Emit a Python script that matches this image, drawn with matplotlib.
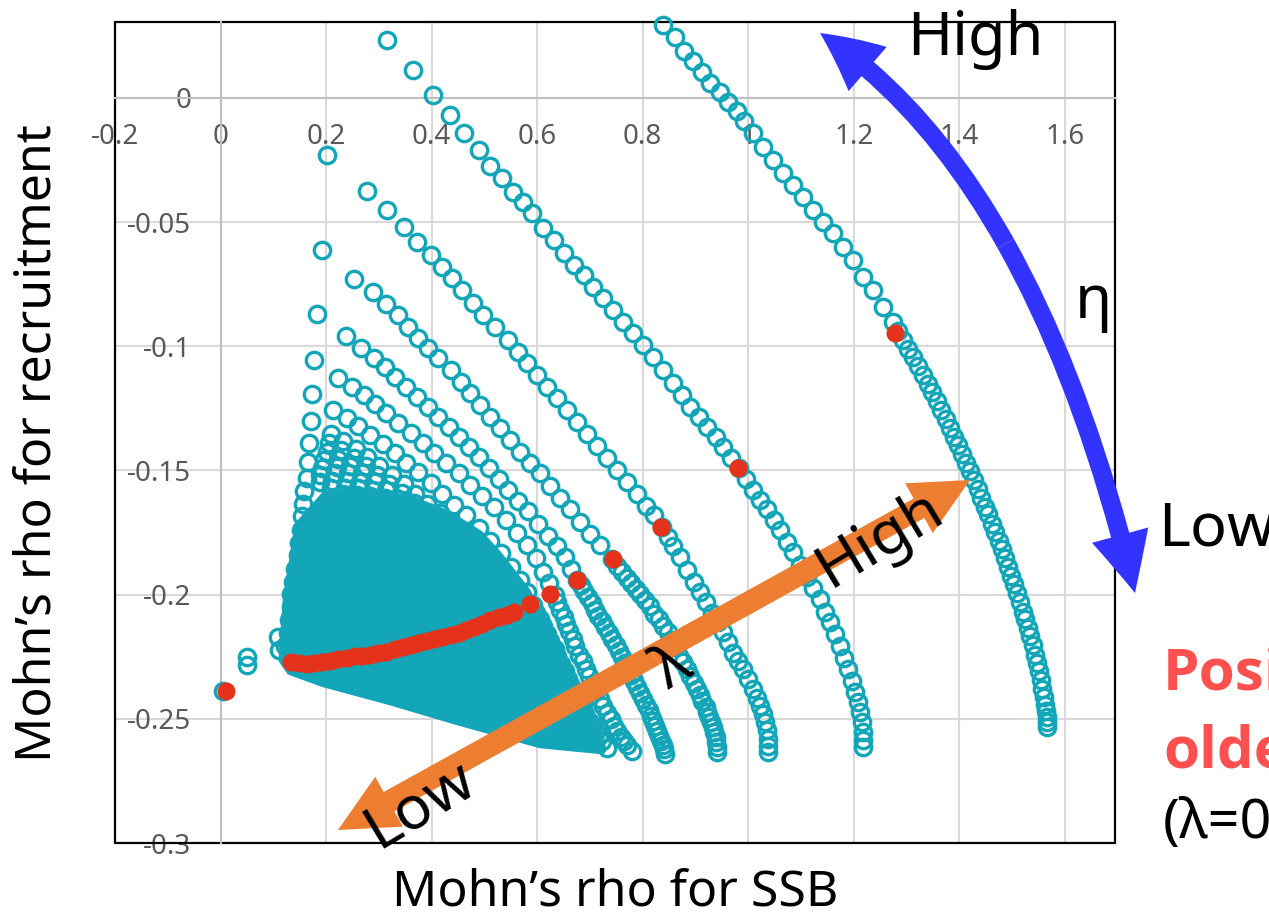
import matplotlib.pyplot as plt
from matplotlib.patches import FancyArrowPatch, Rectangle, Polygon
from matplotlib.path import Path

plt.rcParams['font.family'] = ['Noto Sans', 'DejaVu Sans']

# one curve per lambda, points run from high eta (top left) to low eta (bottom right)
curve_a_x = [0.839, 0.862, 0.879, 0.896, 0.913, 0.928, 0.947, 0.962, 0.979, 0.992,
             1.009, 1.028, 1.047, 1.066, 1.085, 1.104, 1.123, 1.142, 1.161, 1.180,
             1.199, 1.218, 1.237, 1.256,
             1.275, 1.284, 1.294, 1.303, 1.313, 1.322, 1.331, 1.341, 1.348, 1.358,
             1.366, 1.375, 1.383, 1.390, 1.398, 1.405, 1.413, 1.420, 1.428, 1.436,
             1.441, 1.449, 1.455, 1.462, 1.468, 1.475, 1.481, 1.487, 1.492, 1.498,
             1.504, 1.509, 1.515, 1.521, 1.525, 1.530, 1.534, 1.540, 1.544, 1.547,
             1.551, 1.555, 1.557, 1.561, 1.563, 1.564, 1.566, 1.566, 1.566]
curve_a_y = [0.0294, 0.0245, 0.0189, 0.0149, 0.0105, 0.0060, 0.0024, -0.0016, -0.0052, -0.0093,
             -0.0141, -0.0197, -0.0249, -0.0302, -0.0350, -0.0398, -0.0451, -0.0499, -0.0543, -0.0599,
             -0.0652, -0.0720, -0.0772, -0.0841,
             -0.0901, -0.0937, -0.0973, -0.1010, -0.1042, -0.1078, -0.1114, -0.1150, -0.1183, -0.1219,
             -0.1255, -0.1291, -0.1327, -0.1364, -0.1396, -0.1432, -0.1468, -0.1504, -0.1537, -0.1573,
             -0.1609, -0.1645, -0.1677, -0.1714, -0.1746, -0.1782, -0.1818, -0.1854, -0.1887, -0.1923,
             -0.1959, -0.1995, -0.2031, -0.2068, -0.2100, -0.2136, -0.2168, -0.2204, -0.2241, -0.2277,
             -0.2309, -0.2345, -0.2381, -0.2414, -0.2446, -0.2470, -0.2494, -0.2514, -0.2534]

curve_b_x = [0.316, 0.364, 0.402, 0.434, 0.462, 0.489, 0.511, 0.534, 0.555, 0.574,
             0.591, 0.612, 0.631, 0.650, 0.669, 0.688, 0.706, 0.725, 0.744, 0.763,
             0.782, 0.801, 0.820, 0.839, 0.858, 0.875, 0.890, 0.907, 0.922, 0.938,
             0.953, 0.968, 0.983, 0.996, 1.009, 1.023, 1.036, 1.049, 1.061, 1.074,
             1.085, 1.098, 1.112, 1.123, 1.136, 1.146, 1.155, 1.165, 1.174, 1.182,
             1.189, 1.197, 1.203, 1.208, 1.212, 1.216, 1.218, 1.218, 1.218]
curve_b_y = [0.0233, 0.0113, 0.0012, -0.0068, -0.0141, -0.0209, -0.0274, -0.0322, -0.0378, -0.0418,
             -0.0463, -0.0523, -0.0571, -0.0623, -0.0672, -0.0712, -0.0760, -0.0805, -0.0853, -0.0901,
             -0.0945, -0.0994, -0.1042, -0.1094, -0.1146, -0.1195, -0.1243, -0.1283, -0.1323, -0.1364,
             -0.1404, -0.1448, -0.1488, -0.1533, -0.1577, -0.1617, -0.1657, -0.1698, -0.1738, -0.1786,
             -0.1830, -0.1879, -0.1927, -0.1975, -0.2019, -0.2068, -0.2112, -0.2160, -0.2208, -0.2257,
             -0.2301, -0.2349, -0.2393, -0.2434, -0.2474, -0.2514, -0.2554, -0.2587, -0.2615]

curve_c_x = [0.277, 0.316, 0.347, 0.373, 0.398, 0.420, 0.439, 0.458, 0.479, 0.498,
             0.521, 0.544, 0.563, 0.581, 0.600, 0.619, 0.638, 0.657, 0.676, 0.695,
             0.714, 0.733, 0.752, 0.771, 0.790, 0.807, 0.822, 0.837, 0.848, 0.858,
             0.871, 0.884, 0.898, 0.909, 0.920, 0.932, 0.943, 0.953, 0.962, 0.972,
             0.981, 0.991, 1.000, 1.009, 1.017, 1.023, 1.028, 1.032, 1.036, 1.038,
             1.038, 1.038]
curve_c_y = [-0.0374, -0.0451, -0.0519, -0.0579, -0.0632, -0.0680, -0.0724, -0.0772, -0.0825, -0.0873,
             -0.0921, -0.0973, -0.1022, -0.1066, -0.1114, -0.1163, -0.1207, -0.1255, -0.1303, -0.1352,
             -0.1400, -0.1448, -0.1496, -0.1545, -0.1593, -0.1641, -0.1681, -0.1726, -0.1766, -0.1806,
             -0.1850, -0.1899, -0.1947, -0.1991, -0.2031, -0.2072, -0.2112, -0.2152, -0.2192, -0.2233,
             -0.2269, -0.2301, -0.2341, -0.2381, -0.2418, -0.2450, -0.2482, -0.2514, -0.2546, -0.2582,
             -0.2611, -0.2635]

curve_d_x = [0.252, 0.288, 0.313, 0.337, 0.356, 0.375, 0.394, 0.413, 0.436, 0.455,
             0.473, 0.492, 0.511, 0.530, 0.549, 0.568, 0.587, 0.606, 0.625, 0.644,
             0.663, 0.682, 0.701, 0.720, 0.742, 0.752, 0.761, 0.771, 0.778, 0.788,
             0.795, 0.805, 0.814, 0.822, 0.830, 0.839, 0.847, 0.854, 0.862, 0.869,
             0.877, 0.884, 0.890, 0.898, 0.903, 0.909, 0.913, 0.919, 0.922, 0.926,
             0.930, 0.934, 0.936, 0.938, 0.939, 0.941, 0.941]
curve_d_y = [-0.0728, -0.0780, -0.0829, -0.0873, -0.0921, -0.0965, -0.1006, -0.1046, -0.1094, -0.1142,
             -0.1187, -0.1235, -0.1283, -0.1327, -0.1376, -0.1424, -0.1468, -0.1512, -0.1561, -0.1609,
             -0.1657, -0.1706, -0.1754, -0.1802, -0.1858, -0.1883, -0.1907, -0.1931, -0.1955, -0.1979,
             -0.1999, -0.2023, -0.2047, -0.2076, -0.2100, -0.2128, -0.2152, -0.2184, -0.2212, -0.2245,
             -0.2273, -0.2301, -0.2329, -0.2357, -0.2381, -0.2405, -0.2430, -0.2454, -0.2474, -0.2494,
             -0.2514, -0.2534, -0.2554, -0.2574, -0.2595, -0.2615, -0.2635]

curve_e_x = [0.237, 0.267, 0.290, 0.311, 0.331, 0.352, 0.373, 0.394, 0.413, 0.432,
             0.451, 0.470, 0.489, 0.508, 0.527, 0.545, 0.564, 0.583, 0.602, 0.621,
             0.638, 0.653, 0.665, 0.676, 0.684, 0.689, 0.697, 0.703, 0.710, 0.716,
             0.723, 0.729, 0.737, 0.742, 0.750, 0.756, 0.761, 0.767, 0.773, 0.778,
             0.784, 0.790, 0.795, 0.801, 0.807, 0.811, 0.816, 0.820, 0.824, 0.828,
             0.831, 0.835, 0.839, 0.841, 0.843]
curve_e_y = [-0.0957, -0.1006, -0.1046, -0.1082, -0.1122, -0.1163, -0.1203, -0.1243, -0.1283, -0.1323,
             -0.1364, -0.1404, -0.1444, -0.1488, -0.1533, -0.1577, -0.1621, -0.1665, -0.1714, -0.1762,
             -0.1806, -0.1850, -0.1895, -0.1939, -0.1963, -0.1987, -0.2011, -0.2035, -0.2060, -0.2084,
             -0.2108, -0.2132, -0.2156, -0.2180, -0.2204, -0.2228, -0.2253, -0.2277, -0.2301, -0.2325,
             -0.2349, -0.2373, -0.2397, -0.2422, -0.2446, -0.2466, -0.2490, -0.2510, -0.2530, -0.2550,
             -0.2570, -0.2591, -0.2607, -0.2623, -0.2643]

curve_f_x = [0.223, 0.250, 0.271, 0.292, 0.314, 0.337, 0.360, 0.383, 0.405, 0.428,
             0.451, 0.473, 0.496, 0.519, 0.540, 0.561, 0.580, 0.597, 0.612, 0.623,
             0.633, 0.638, 0.644, 0.650, 0.655, 0.661, 0.667, 0.672, 0.680, 0.686,
             0.693, 0.699, 0.706, 0.712, 0.720, 0.725, 0.733, 0.739, 0.746, 0.752,
             0.759, 0.765, 0.771, 0.780]
curve_f_y = [-0.1126, -0.1163, -0.1195, -0.1231, -0.1267, -0.1307, -0.1348, -0.1388, -0.1428, -0.1468,
             -0.1512, -0.1557, -0.1601, -0.1649, -0.1698, -0.1750, -0.1802, -0.1854, -0.1907, -0.1955,
             -0.2003, -0.2031, -0.2060, -0.2088, -0.2120, -0.2148, -0.2180, -0.2208, -0.2241, -0.2269,
             -0.2301, -0.2329, -0.2361, -0.2389, -0.2422, -0.2450, -0.2478, -0.2502, -0.2530, -0.2550,
             -0.2574, -0.2591, -0.2607, -0.2631]

curve_g_x = [0.214, 0.239, 0.261, 0.284, 0.307, 0.330, 0.352, 0.375, 0.398, 0.420,
             0.443, 0.466, 0.489, 0.511, 0.532, 0.551, 0.568, 0.581, 0.593, 0.598,
             0.606, 0.612, 0.619, 0.625, 0.633, 0.638, 0.646, 0.652, 0.659, 0.665,
             0.672, 0.678, 0.686, 0.691, 0.699, 0.705, 0.712, 0.718, 0.723, 0.733]
curve_g_y = [-0.1255, -0.1287, -0.1319, -0.1356, -0.1392, -0.1428, -0.1468, -0.1508, -0.1549, -0.1593,
             -0.1637, -0.1681, -0.1730, -0.1782, -0.1834, -0.1887, -0.1939, -0.1991, -0.2043, -0.2072,
             -0.2100, -0.2128, -0.2160, -0.2188, -0.2220, -0.2249, -0.2281, -0.2309, -0.2341, -0.2369,
             -0.2401, -0.2430, -0.2458, -0.2482, -0.2510, -0.2530, -0.2554, -0.2570, -0.2591, -0.2619]

# upper ends of the densely packed low-lambda curves
curve_h_x = [0.210, 0.233, 0.256, 0.278, 0.301, 0.324, 0.347, 0.369, 0.392, 0.415, 0.438, 0.460, 0.483, 0.506]
curve_h_y = [-0.1352, -0.1380, -0.1412, -0.1444, -0.1480, -0.1517, -0.1553, -0.1593, -0.1633, -0.1673,
             -0.1718, -0.1762, -0.1810, -0.1858]
curve_h2_x = [0.206, 0.229, 0.252, 0.275, 0.297, 0.320, 0.343, 0.366, 0.388, 0.411, 0.434, 0.456, 0.479, 0.502]
curve_h2_y = [-0.1388, -0.1416, -0.1448, -0.1480, -0.1517, -0.1553, -0.1589, -0.1629, -0.1669, -0.1710,
              -0.1754, -0.1798, -0.1846, -0.1895]
curve_i_x = [0.201, 0.223, 0.246, 0.269, 0.292, 0.314, 0.337, 0.360, 0.383, 0.405, 0.428, 0.451]
curve_i_y = [-0.1424, -0.1452, -0.1480, -0.1512, -0.1545, -0.1577, -0.1613, -0.1649, -0.1685, -0.1726,
             -0.1766, -0.1810]
curve_i2_x = [0.197, 0.220, 0.242, 0.265, 0.288, 0.311, 0.333, 0.356, 0.379, 0.402]
curve_i2_y = [-0.1456, -0.1484, -0.1512, -0.1545, -0.1577, -0.1609, -0.1645, -0.1681, -0.1718, -0.1758]
curve_j_x = [0.193, 0.216, 0.239, 0.261, 0.284, 0.307, 0.330, 0.352]
curve_j_y = [-0.1488, -0.1512, -0.1541, -0.1569, -0.1601, -0.1633, -0.1665, -0.1702]
curve_j2_x = [0.189, 0.212, 0.235, 0.258, 0.280, 0.303, 0.326]
curve_j2_y = [-0.1517, -0.1541, -0.1569, -0.1597, -0.1625, -0.1657, -0.1689]
curve_k_x = [0.188, 0.210, 0.233, 0.256, 0.278, 0.301, 0.324]
curve_k_y = [-0.1545, -0.1569, -0.1593, -0.1621, -0.1649, -0.1681, -0.1714]

# first point (highest eta) of each curve, the left edge of the fan
edge_x = [0.201, 0.193, 0.182, 0.178, 0.174, 0.172, 0.167, 0.165, 0.163, 0.159, 0.157,
          0.155, 0.152, 0.148, 0.146, 0.142, 0.138, 0.134, 0.133, 0.129, 0.127, 0.123]
edge_y = [-0.0229, -0.0611, -0.0869, -0.1054, -0.1191, -0.1299, -0.1388, -0.1464, -0.1529, -0.1581, -0.1633,
          -0.1685, -0.1738, -0.1790, -0.1842, -0.1895, -0.1947, -0.1999, -0.2051, -0.2104, -0.2156, -0.2208]

# solid overlap of the many low-lambda curves
fan_x = [0.150, 0.200, 0.280, 0.360, 0.430, 0.490, 0.525, 0.578, 0.628, 0.675, 0.712, 0.722,
         0.606, 0.449, 0.322, 0.195, 0.133, 0.119, 0.127]
fan_y = [-0.1720, -0.1600, -0.1590, -0.1620, -0.1680, -0.1760, -0.1842, -0.1987, -0.2172, -0.2373,
         -0.2550, -0.2623, -0.2599, -0.2506, -0.2426, -0.2353, -0.2305, -0.2261, -0.2019]

stray_x = [0.004, 0.051, 0.051, 0.108, 0.110]
stray_y = [-0.2389, -0.2253, -0.2285, -0.2172, -0.2221]

# selected eta for each lambda
red_x = [0.011, 0.133, 0.148, 0.163, 0.178, 0.193, 0.208, 0.223, 0.239, 0.254, 0.269,
         0.284, 0.299, 0.314, 0.330, 0.345, 0.360, 0.375, 0.390, 0.405, 0.420,
         0.436, 0.451, 0.466, 0.481, 0.496, 0.511, 0.527, 0.542, 0.557,
         0.587, 0.625, 0.676, 0.744, 0.835, 0.981, 1.278]
red_y = [-0.2389, -0.2273, -0.2277, -0.2281, -0.2277, -0.2273, -0.2269, -0.2261, -0.2257, -0.2249, -0.2245,
         -0.2241, -0.2233, -0.2229, -0.2220, -0.2212, -0.2204, -0.2196, -0.2188, -0.2180, -0.2172,
         -0.2164, -0.2156, -0.2144, -0.2132, -0.2120, -0.2104, -0.2088, -0.2080, -0.2068,
         -0.2039, -0.1999, -0.1939, -0.1858, -0.1726, -0.1488, -0.0945]

xtick_vals = [-0.2, 0, 0.2, 0.4, 0.6, 0.8, 1.0, 1.2, 1.4, 1.6]
xtick_labels = ['-0.2', '0', '0.2', '0.4', '0.6', '0.8', '1', '1.2', '1.4', '1.6']
ytick_vals = [0, -0.05, -0.1, -0.15, -0.2, -0.25, -0.3]
ytick_labels = ['0', '-0.05', '-0.1', '-0.15', '-0.2', '-0.25', '-0.3']

teal = '#13A6B8'
red = '#E5321A'
blue = '#3333FF'
orange = '#ED7D31'

W, H = 1269, 919


def fx(px):
    return px / W


def fy(py):
    return 1 - py / H


fig = plt.figure(figsize=(W / 100, H / 100), dpi=100)
ax = fig.add_axes([fx(115), fy(843), 1000 / W, 821 / H])
ax.set_xlim(-0.2, 1.695)
ax.set_ylim(-0.3, 0.0306)

ax.set_axisbelow(True)
ax.grid(True, color='#D9D9D9', lw=1.5)
for s in ['top', 'right']:
    ax.spines[s].set_visible(False)
ax.spines['left'].set_position(('data', 0))
ax.spines['bottom'].set_position(('data', 0))
for s in ['left', 'bottom']:
    ax.spines[s].set_color('#BFBFBF')
    ax.spines[s].set_linewidth(1.5)
ax.set_xticks(xtick_vals)
ax.set_xticklabels(xtick_labels)
ax.set_yticks(ytick_vals)
ax.set_yticklabels(ytick_labels)
ax.tick_params(axis='x', length=0, pad=18, labelsize=20, labelcolor='#595959')
ax.tick_params(axis='y', length=0, pad=21, labelsize=20, labelcolor='#595959')
ax.add_patch(Rectangle((0, 0), 1, 1, transform=ax.transAxes, fill=False,
                       ec='black', lw=1.6, clip_on=False, zorder=1.5))

ax.add_patch(Polygon(list(zip(fan_x, fan_y)), closed=True, fc=teal, ec=teal,
                     lw=7, joinstyle='round', zorder=2))

curves = [(curve_a_x, curve_a_y), (curve_b_x, curve_b_y), (curve_c_x, curve_c_y),
          (curve_d_x, curve_d_y), (curve_e_x, curve_e_y), (curve_f_x, curve_f_y),
          (curve_g_x, curve_g_y), (curve_h_x, curve_h_y), (curve_h2_x, curve_h2_y),
          (curve_i_x, curve_i_y), (curve_i2_x, curve_i2_y), (curve_j_x, curve_j_y),
          (curve_j2_x, curve_j2_y), (curve_k_x, curve_k_y), (edge_x, edge_y),
          (stray_x, stray_y)]
for cx, cy in curves:
    ax.plot(cx, cy, ls='none', marker='o', ms=11.8, mfc='none', mec=teal,
            mew=2.4, clip_on=False, zorder=3)

ax.plot(red_x, red_y, ls='none', marker='o', ms=13, mfc=red, mec='none',
        clip_on=False, zorder=4)


def double_arrow(p0, ctrl, p1, color, tail, head_len, head_w):
    # quadratic curve p0 -> p1, split in the middle so both ends get a head
    mid = ((p0[0] + 2 * ctrl[0] + p1[0]) / 4, (p0[1] + 2 * ctrl[1] + p1[1]) / 4)
    for tip in (p0, p1):
        c = ((tip[0] + ctrl[0]) / 2, (tip[1] + ctrl[1]) / 2)
        verts = [(fx(mid[0]), fy(mid[1])), (fx(c[0]), fy(c[1])), (fx(tip[0]), fy(tip[1]))]
        path = Path(verts, [Path.MOVETO, Path.CURVE3, Path.CURVE3])
        style = 'simple,head_length=%g,head_width=%g,tail_width=%g' % (head_len, head_w, tail)
        fig.add_artist(FancyArrowPatch(path=path, arrowstyle=style, mutation_scale=1,
                                       transform=fig.transFigure, color=color, lw=0, zorder=5))


double_arrow((820, 33), (1034, 174), (1135, 593), blue, 13.5, 43, 42)
double_arrow((338, 830), (654, 655), (970, 480), orange, 16, 42, 41)

fig.text(fx(907), fy(55), 'High', fontsize=44, ha='left', va='baseline', zorder=6)
fig.text(fx(1075), fy(318), 'η', fontsize=44, ha='left', va='baseline', zorder=6)
fig.text(fx(1158), fy(545), 'Low', fontsize=44, ha='left', va='baseline', zorder=6)
fig.text(fx(880), fy(540), 'High', fontsize=44, rotation=31, rotation_mode='anchor',
         ha='center', va='center', zorder=6)
fig.text(fx(420), fy(805), 'Low', fontsize=44, rotation=31, rotation_mode='anchor',
         ha='center', va='center', zorder=6)
fig.text(fx(673), fy(668), 'λ', fontsize=44, rotation=31, rotation_mode='anchor',
         ha='center', va='center', zorder=6)
fig.text(fx(1163), fy(690), 'Position', fontsize=42, fontweight='bold', color='#FF5050',
         family=['Open Sans', 'DejaVu Sans'], ha='left', va='baseline', zorder=6)
fig.text(fx(1163), fy(767), 'older', fontsize=42, fontweight='bold', color='#FF5050',
         family=['Open Sans', 'DejaVu Sans'], ha='left', va='baseline', zorder=6)
fig.text(fx(1163), fy(838), '(λ=0)', fontsize=40, ha='left', va='baseline', zorder=6)

fig.text(fx(615), fy(893), 'Mohn’s rho for SSB', fontsize=36, ha='center', va='center')
fig.text(fx(38), fy(443), 'Mohn’s rho for recruitment', fontsize=36, rotation=90,
         ha='center', va='center')

fig.savefig('out.png', dpi=100)
